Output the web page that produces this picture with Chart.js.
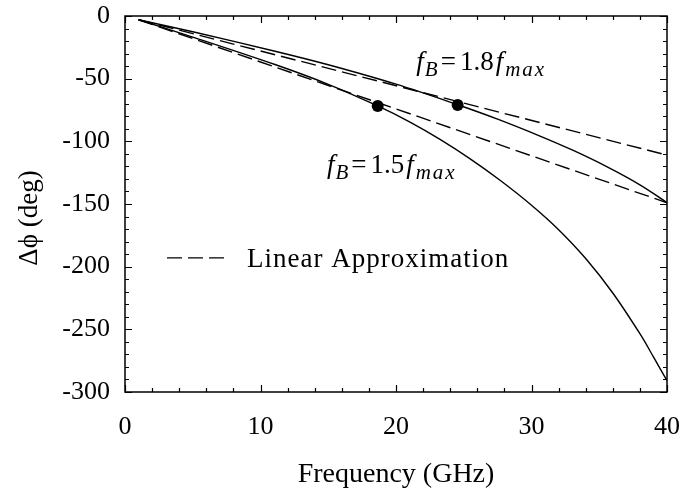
<!DOCTYPE html>
<html lang="en">
<head>
<meta charset="UTF-8">
<title>Phase difference vs frequency</title>
<script src="https://cdn.jsdelivr.net/npm/chart.js"></script>
<style>
  html, body { margin: 0; padding: 0; background: #fff; }
  canvas { display: block; }
</style>
</head>
<body>
<canvas id="phaseChart" width="682" height="493"></canvas>
<script>
// curves (GHz, deg)
const freq18 = [1, 5, 11.07, 15, 20, 24.55, 27.5, 30.63, 33, 35.55, 38, 40];
const phase18 = [-3, -12.6, -28.1, -38.9, -54.4, -70.8, -82.3, -95.8, -106.9, -120.2, -134.7, -148.8];

const freq15 = [1, 5, 11.07, 15, 18.65, 21, 23.25, 25.5, 27.68, 30, 32, 34, 36, 38, 39, 40];
const phase15 = [-3, -16.8, -38.7, -54.5, -71.8, -84.5, -98.5, -114.2, -131.1, -151, -170.5, -193.5, -221, -253.5, -272, -291];

// linear approximations (end points)
const linFreq = [1, 40];
const lin18 = [-3, -111];
const lin15 = [-3, -149];

// marked points
const dotFreq = [18.65, 24.55];
const dotPhase = [-71.8, -71];

const xTicks = [0, 10, 20, 30, 40];
const yTicks = [0, -50, -100, -150, -200, -250, -300];

const serif = '"Liberation Serif", "DejaVu Serif", serif';

function pts(xs, ys) {
    return xs.map((x, i) => ({ x: x, y: ys[i] }));
}

const solid = { borderColor: '#000', borderWidth: 1.4, pointRadius: 0, fill: false, tension: 0.35 };
const dashed = { borderColor: '#000', borderWidth: 1.4, pointRadius: 0, fill: false, borderDash: [15, 6] };

function noPad(s) {
    s.paddingLeft = 0; s.paddingRight = 0; s.paddingTop = 0; s.paddingBottom = 0;
}

// inward ticks, frame, legend, labels
const decor = {
    id: 'decor',
    afterDraw(chart) {
        const ctx = chart.ctx;
        const a = chart.chartArea;
        const xs = chart.scales.x, ys = chart.scales.y;
        ctx.save();
        ctx.strokeStyle = '#000';
        ctx.lineWidth = 1.5;
        ctx.setLineDash([]);
        ctx.strokeRect(a.left, a.top, a.right - a.left, a.bottom - a.top);

        ctx.lineWidth = 1.2;
        ctx.beginPath();
        for (let v = 0; v <= 40; v += 2) {
            const px = Math.round(xs.getPixelForValue(v)) + 0.5;
            const len = v % 10 === 0 ? 7 : 4;
            ctx.moveTo(px, a.bottom); ctx.lineTo(px, a.bottom - len);
            ctx.moveTo(px, a.top); ctx.lineTo(px, a.top + len);
        }
        for (let v = -300; v <= 0; v += 10) {
            const py = Math.round(ys.getPixelForValue(v)) + 0.5;
            const len = v % 50 === 0 ? 7 : 4;
            ctx.moveTo(a.left, py); ctx.lineTo(a.left + len, py);
            ctx.moveTo(a.right, py); ctx.lineTo(a.right - len, py);
        }
        ctx.stroke();

        // y axis title
        ctx.fillStyle = '#000';
        ctx.save();
        ctx.translate(30, 218);
        ctx.rotate(-Math.PI / 2);
        ctx.font = '27px ' + serif;
        ctx.textAlign = 'center';
        ctx.textBaseline = 'middle';
        ctx.fillText('Δϕ (deg)', 0, 0);
        ctx.restore();

        // legend
        const lx = xs.getPixelForValue(3.1), ly = ys.getPixelForValue(-193);
        ctx.lineWidth = 1.4;
        ctx.setLineDash([15, 6]);
        ctx.beginPath();
        ctx.moveTo(lx, ly); ctx.lineTo(lx + 57, ly);
        ctx.stroke();
        ctx.setLineDash([]);
        ctx.textBaseline = 'alphabetic';
        ctx.font = '27px ' + serif;
        ctx.letterSpacing = '1px';
        ctx.fillText('Linear Approximation', lx + 80, ly + 9);
        ctx.letterSpacing = '0px';

        // curve labels
        function label(x, y, ratio) {
            let px = xs.getPixelForValue(x);
            const py = ys.getPixelForValue(y);
            const parts = [
                ['italic 27px ' + serif, 'f', 0, 1],
                ['italic 21px ' + serif, 'B', 6, 3],
                ['27px ' + serif, '=', 0, 4],
                ['27px ' + serif, ratio, 0, 2],
                ['italic 27px ' + serif, 'f', 0, 2],
                ['italic 21px ' + serif, 'max', 6, 0]
            ];
            parts.forEach(p => {
                ctx.font = p[0];
                ctx.letterSpacing = p[1] === 'max' ? '2px' : '0px';
                ctx.fillText(p[1], px, py + p[2]);
                px += ctx.measureText(p[1]).width + p[3];
            });
            ctx.letterSpacing = '0px';
        }
        label(21.5, -43.1, '1.8');
        label(14.9, -125.3, '1.5');
        ctx.restore();
    }
};

new Chart(document.getElementById('phaseChart'), {
    type: 'line',
    data: {
        datasets: [
            Object.assign({ label: 'fB=1.8fmax', data: pts(freq18, phase18) }, solid),
            Object.assign({ label: 'fB=1.5fmax', data: pts(freq15, phase15) }, solid),
            Object.assign({ label: 'Linear Approximation', data: pts(linFreq, lin18) }, dashed),
            Object.assign({ label: 'Linear Approximation', data: pts(linFreq, lin15) }, dashed),
            {
                label: 'points', data: pts(dotFreq, dotPhase), showLine: false,
                pointRadius: 6, pointBackgroundColor: '#000', pointBorderColor: '#000', pointBorderWidth: 0
            }
        ]
    },
    options: {
        responsive: false,
        animation: false,
        devicePixelRatio: 1,
        layout: { padding: { top: 16, right: 15, left: 0, bottom: 0 } },
        plugins: { legend: { display: false }, tooltip: { enabled: false } },
        scales: {
            x: {
                type: 'linear', min: 0, max: 40,
                afterBuildTicks(s) { s.ticks = xTicks.map(v => ({ value: v })); },
                afterFit(s) { s.height = 101; noPad(s); },
                grid: { display: false, drawTicks: false },
                border: { display: false },
                ticks: { color: '#000', font: { family: serif, size: 26 }, padding: 20, maxRotation: 0 },
                title: { display: true, text: 'Frequency (GHz)', color: '#000', font: { family: serif, size: 28 }, padding: { top: 0, bottom: 2 } }
            },
            y: {
                type: 'linear', min: -300, max: 0,
                afterBuildTicks(s) { s.ticks = yTicks.map(v => ({ value: v })); },
                afterFit(s) { s.width = 125; noPad(s); },
                grid: { display: false, drawTicks: false },
                border: { display: false },
                ticks: { color: '#000', font: { family: serif, size: 26 }, padding: 15 },
                title: { display: false }
            }
        }
    },
    plugins: [decor]
});
</script>
</body>
</html>
